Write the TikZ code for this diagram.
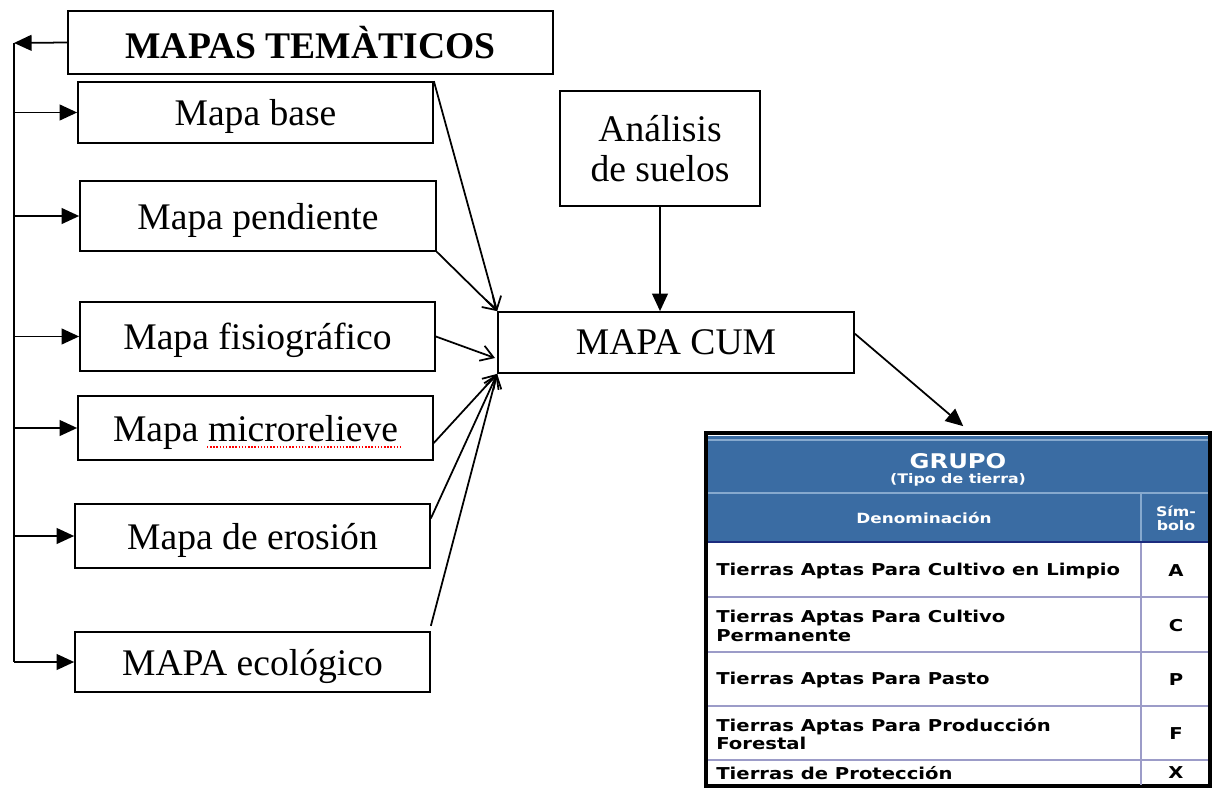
\documentclass[tikz,border=0pt]{standalone}
\usepackage{fontspec}
\setmainfont{Liberation Serif}
\newfontfamily\tablafont[FakeStretch=1.2]{DejaVu Sans}
\usetikzlibrary{arrows.meta}
\definecolor{azulgrupo}{HTML}{3A6CA3}
\definecolor{azulclaro}{HTML}{86A9CE}
\definecolor{azuloscuro}{HTML}{1C2C7E}
\definecolor{lineafila}{HTML}{9C9CC8}
\begin{document}
\begin{tikzpicture}[x=0.02cm,y=-0.02cm,
    caja/.style={draw,line width=1pt,inner sep=0pt,text depth=0pt,
      font=\fontsize{21.4}{23.2}\selectfont},
    lleno/.style={-{Triangle[length=10pt,width=9pt]},line width=1pt},
    abierto/.style={-{Straight Barb[length=7pt,width=9pt]},line width=1pt},
    celda/.style={inner sep=0pt,text=black,
      font=\tablafont\bfseries\fontsize{9.3}{10.6}\selectfont},
    cabeza/.style={inner sep=0pt,text=white,align=center,
      font=\tablafont\bfseries\fontsize{7.5}{8}\selectfont}]
  \useasboundingbox (0,0) rectangle (1212,787);
  \draw
    (310.5,42.5) node[caja,minimum width=9.7cm,minimum height=1.26cm,
      font=\fontsize{21.4}{23.2}\selectfont\bfseries] (tem){MAPAS TEMÀTICOS}
    (255.5,112.5) node[caja,minimum width=7.1cm,minimum height=1.22cm] (base){Mapa base}
    (258,216) node[caja,minimum width=7.12cm,minimum height=1.4cm] (pend){Mapa pendiente}
    (257.5,336.5) node[caja,minimum width=7.1cm,minimum height=1.38cm] (fisio){Mapa fisiográfico}
    (255.5,428) node[caja,minimum width=7.1cm,minimum height=1.28cm] (micro){Mapa microrelieve}
    (252.5,536) node[caja,minimum width=7.1cm,minimum height=1.28cm] (eros){Mapa de erosión}
    (252.5,662) node[caja,minimum width=7.1cm,minimum height=1.2cm] (eco){MAPA ecológico}
    (660,148.5) node[caja,minimum width=4cm,minimum height=2.3cm,align=center] (ana){Análisis\\de suelos}
    (676,342.5) node[caja,minimum width=7.12cm,minimum height=1.22cm] (cum){MAPA CUM};
  % spell check mark
  \draw[red,densely dotted,line width=0.8pt] (207,447) -- (400,447);
  % table
  \node[draw=black,line width=1.8pt,fill=white,minimum width=10.08cm,
    minimum height=7.06cm] (tab) at (958,609.5) {};
  \fill[azulgrupo] (708,436) rectangle (1208,542);
  \draw[azulclaro,line width=1.2pt] (708,440) -- (1208,440);
  \draw[azulclaro,line width=1.2pt] (708,493) -- (1208,493);
  \draw[azulclaro,line width=1.2pt] (1141,493) -- (1141,541);
  \draw[azuloscuro,line width=1.6pt] (708,542) -- (1208,542);
  \draw[lineafila,line width=0.8pt] (708,597) -- (1208,597);
  \draw[lineafila,line width=0.8pt] (708,652) -- (1208,652);
  \draw[lineafila,line width=0.8pt] (708,706) -- (1208,706);
  \draw[lineafila,line width=0.8pt] (708,760) -- (1208,760);
  \draw[lineafila,line width=0.8pt] (1141,543) -- (1141,785);
  \node[cabeza,font=\tablafont\bfseries\fontsize{11.5}{12}\selectfont] (grupo) at (958,461) {GRUPO};
  \node[cabeza] (tipo) at (958,480) {(Tipo de tierra)};
  \node[cabeza,font=\tablafont\bfseries\fontsize{8}{8}\selectfont] (denom) at (924,518) {Denominación};
  \node[cabeza] (simbolo) at (1176,518) {Sím-\\bolo};
  \node[celda,anchor=west] (f1) at (716,571) {Tierras Aptas Para Cultivo en Limpio};
  \node[celda,anchor=west,align=left] (f2) at (716,626) {Tierras Aptas Para Cultivo\\Permanente};
  \node[celda,anchor=west] (f3) at (716,680) {Tierras Aptas Para Pasto};
  \node[celda,anchor=west,align=left] (f4) at (716,734) {Tierras Aptas Para Producción\\Forestal};
  \node[celda,anchor=west] (f5) at (716,773) {Tierras de Protección};
  \node[celda] (s1) at (1176,571) {A};
  \node[celda] (s2) at (1176,626) {C};
  \node[celda] (s3) at (1176,680) {P};
  \node[celda] (s4) at (1176,734) {F};
  \node[celda] (s5) at (1176,773) {X};
  \coordinate (arriba) at (14,43);
  \coordinate (abajo) at (14,662);
  \coordinate (entrada) at (495,358);
  \begin{scope}[line width=1pt]
    \draw (arriba) -- (abajo);
    \draw[lleno] (tem.west) -- (arriba);
    \draw[lleno] (arriba |- base.west) -- (base.west);
    \draw[lleno] (arriba |- pend.west) -- (pend.west);
    \draw[lleno] (arriba |- fisio.west) -- (fisio.west);
    \draw[lleno] (arriba |- micro.west) -- (micro.west);
    \draw[lleno] (arriba |- eros.west) -- (eros.west);
    \draw[lleno] (arriba |- eco.west) -- (eco.west);
    \draw[abierto] (base.north east) -- (cum.north west);
    \draw[abierto] (pend.south east) -- (cum.north west);
    \draw[abierto] (fisio.east) -- (entrada);
    \draw[abierto] ([yshift=-8.5pt]micro.east) -- (cum.south west);
    \draw[abierto] ([yshift=10pt]eros.east) -- (cum.south west);
    \draw[abierto] ([yshift=3pt]eco.north east) -- (cum.south west);
    \draw[lleno] (ana.south) -- (ana.south |- cum.north);
    \draw[lleno] ([yshift=5pt]cum.east) -- ([xshift=3pt,yshift=3pt]tab.north);
  \end{scope}
\end{tikzpicture}
\end{document}
